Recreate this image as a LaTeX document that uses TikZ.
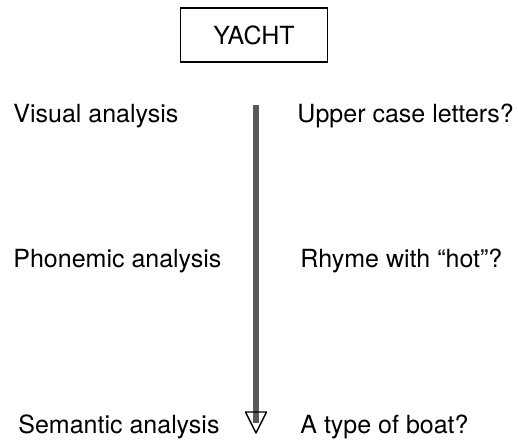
\documentclass[tikz,border=0pt]{standalone}
\usepackage{fontspec}
\setmainfont{TeX Gyre Heros}
\usetikzlibrary{calc}

\begin{document}
\begin{tikzpicture}[x=0.5pt,y=-0.5pt,
    txt/.style={anchor=base west,inner sep=0pt,font=\fontsize{12.5}{15}\selectfont},
    shaft/.style={line width=3pt,black!65,shorten >=5pt},
    head/.style={line width=0.7pt,line join=round}]

  \useasboundingbox (0,0) rectangle (518,439);

  \node[draw,line width=0.6pt,minimum width=73.5pt,minimum height=27pt,inner sep=0pt,
        font=\fontsize{12.5}{15}\selectfont] (word) at (254,35) {YACHT};

  \node[txt] (visual) at (13,122) {Visual analysis};
  \node[txt] (upper) at (297,122) {Upper case letters?};
  \node[txt] (phonemic) at (13,267) {Phonemic analysis};
  \node[txt] (rhyme) at (300,267) {Rhyme with ``hot''?};
  \node[txt] (semantic) at (18,433) {Semantic analysis};
  \node[txt] (boat) at (300,433) {A type of boat?};

  % processing depth
  \coordinate (top) at (256,105);
  \coordinate (tip) at (256,433);
  \draw[shaft] (top) -- (tip);
  \draw[head] (tip) -- ++(-10.5,-21) -- ++(21,0) -- cycle;

\end{tikzpicture}
\end{document}
